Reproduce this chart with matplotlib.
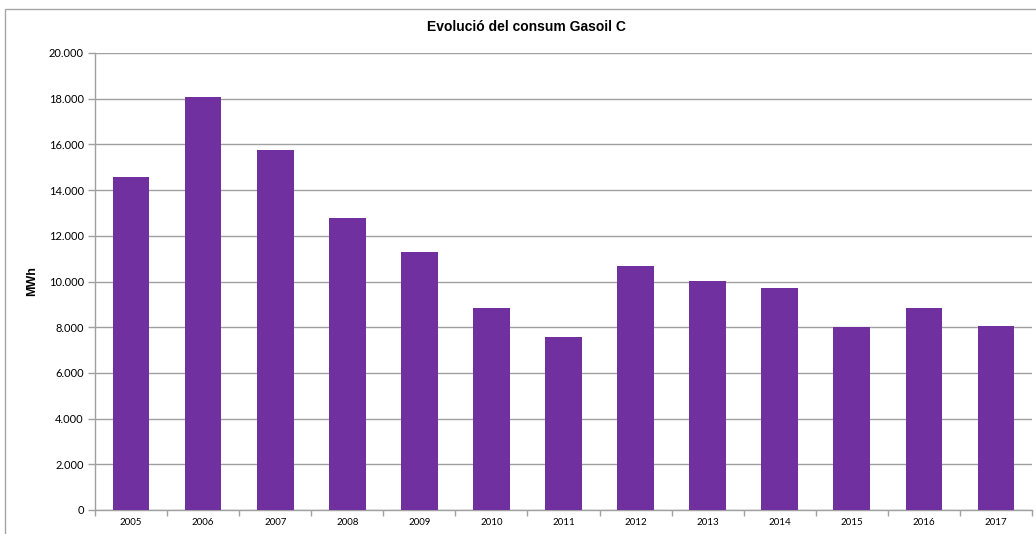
import matplotlib.pyplot as plt
from matplotlib.patches import Rectangle
from matplotlib.ticker import FuncFormatter, FixedLocator
import numpy as np

years = ["2005", "2006", "2007", "2008", "2009", "2010", "2011",
         "2012", "2013", "2014", "2015", "2016", "2017"]
consum_mwh = [14580, 18070, 15760, 12780, 11290, 8840, 7570,
              10680, 10010, 9720, 8010, 8845, 8060]

fig = plt.figure(figsize=(10.36, 5.34), dpi=100)
ax = fig.add_axes([95 / 1036, 1 - 510 / 534, (1032 - 95) / 1036, (510 - 53) / 534])

# outer chart border (Excel style)
fig.patches.append(Rectangle((5 / 1036, -0.2), 1.2, 1.2 - 9 / 534,
                             transform=fig.transFigure, fill=False,
                             edgecolor="#a6a6a6", linewidth=1.0))

x = np.arange(len(years))
ax.bar(x, consum_mwh, width=0.51, color="#7030A0", zorder=3)

ax.set_xlim(-0.5, len(years) - 0.5)
ax.set_ylim(0, 20000)
ax.set_yticks(np.arange(0, 20001, 2000))
ax.yaxis.set_major_formatter(FuncFormatter(lambda v, p: f"{int(v):,}".replace(",", ".")))
ax.grid(axis="y", color="#a0a0a0", linewidth=1.0, zorder=0)

ax.set_xticks(x)
ax.set_xticklabels(years, fontsize=7, family="Lato")
ax.xaxis.set_minor_locator(FixedLocator(np.arange(-0.5, len(years), 1.0)))
ax.tick_params(axis="x", which="major", length=0, pad=6)
ax.tick_params(axis="x", which="minor", length=4, color="#a0a0a0", width=1)
ax.tick_params(axis="y", length=5, color="#a0a0a0", width=1, labelsize=8, pad=3)
for lbl in ax.get_yticklabels():
    lbl.set_family("Lato")

for side in ["top", "right"]:
    ax.spines[side].set_visible(False)
for side in ["left", "bottom"]:
    ax.spines[side].set_color("#a0a0a0")
    ax.spines[side].set_linewidth(1.0)

ax.set_ylabel("MWh", fontsize=9, fontweight="bold", family="Liberation Sans", labelpad=8)
fig.text(526 / 1036, 1 - 27 / 534, "Evolució del consum Gasoil C", ha="center", va="center",
         fontsize=10, fontweight="bold", family="Liberation Sans")

fig.savefig("out.png", dpi=100)
